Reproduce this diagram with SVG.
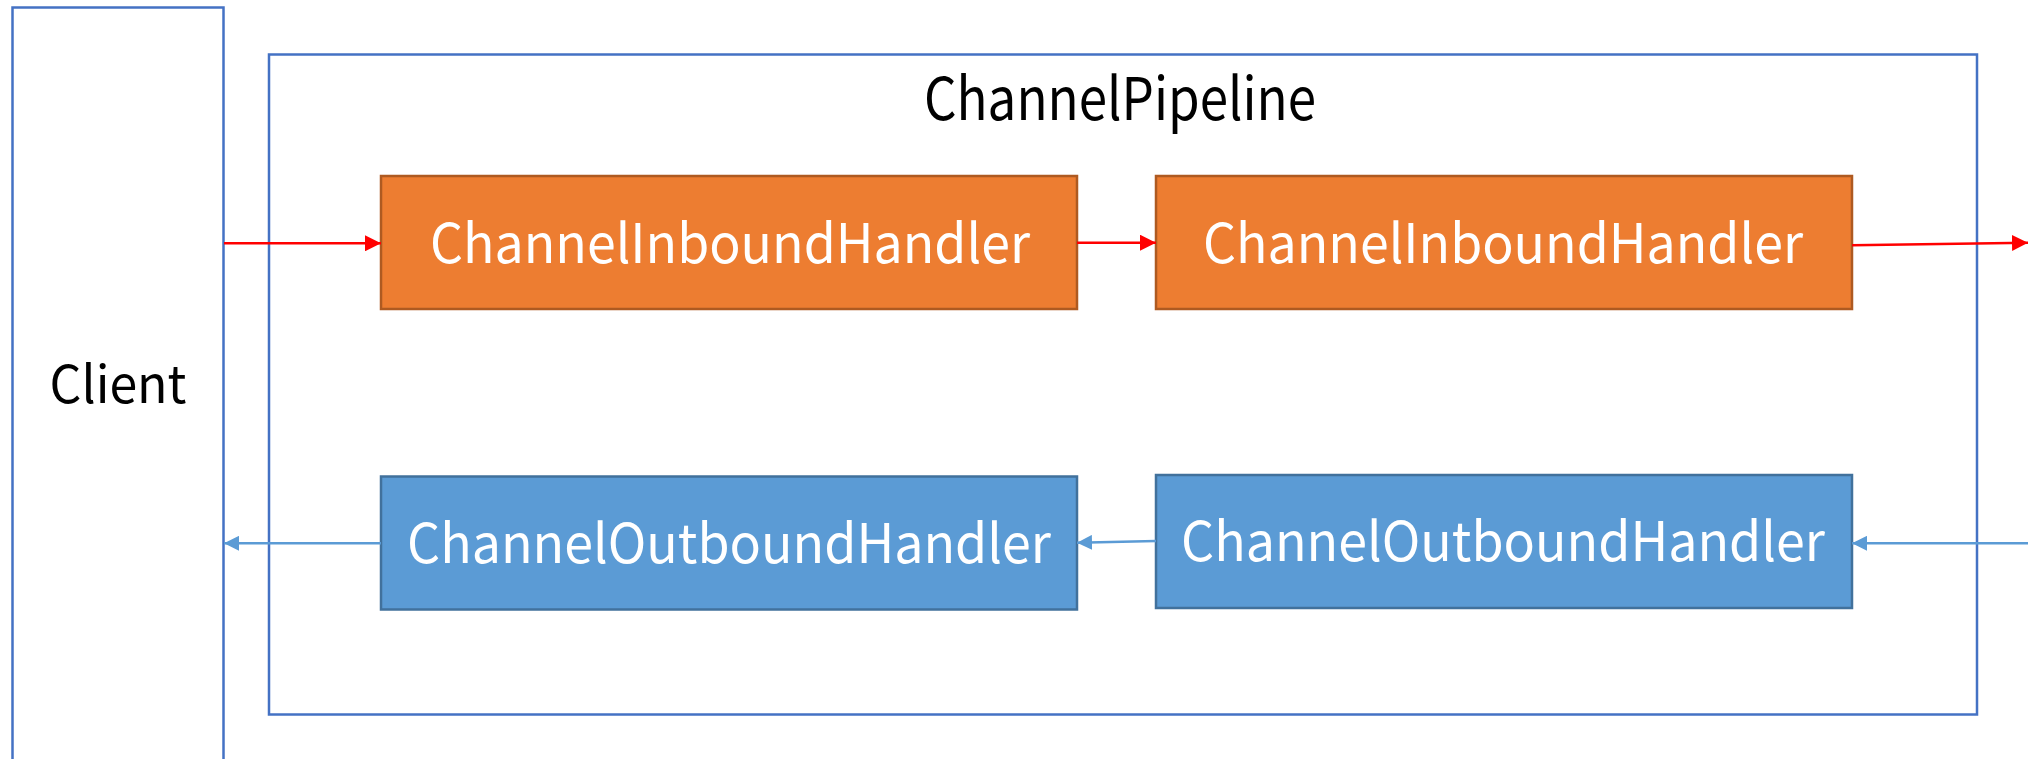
<svg xmlns="http://www.w3.org/2000/svg" width="2037" height="759" viewBox="0 0 2037 759">
  <style>
    .frame { fill: #FFFFFF; stroke: #4472C4; stroke-width: 2.5; }
    .inbound { fill: #ED7D31; stroke: #AE5A21; stroke-width: 2.5; }
    .outbound { fill: #5B9BD5; stroke: #41719C; stroke-width: 2.5; }
    .label { font-family: "Noto Sans CJK KR", "Noto Sans", sans-serif; text-anchor: middle; }
    .dark { fill: #000000; }
    .light { fill: #FFFFFF; }
    .in-flow { stroke: #FF0000; stroke-width: 2.5; fill: none; marker-end: url(#redHead); }
    .out-flow { stroke: #5B9BD5; stroke-width: 2.5; fill: none; marker-end: url(#blueHead); }
  </style>
  <defs>
    <marker id="redHead" markerUnits="userSpaceOnUse" viewBox="0 0 16 16" refX="16" refY="8" markerWidth="16" markerHeight="16" orient="auto">
      <path d="M0,0 L16,8 L0,16 Z" fill="#FF0000"/>
    </marker>
    <marker id="blueHead" markerUnits="userSpaceOnUse" viewBox="0 0 16 16" refX="16" refY="8" markerWidth="15" markerHeight="15" orient="auto">
      <path d="M0,0 L16,8 L0,16 Z" fill="#5B9BD5"/>
    </marker>
  </defs>

  <rect width="2037" height="759" fill="#FFFFFF"/>

  <!-- Client -->
  <g id="client">
    <rect class="frame" x="12.5" y="7.5" width="211" height="780"/>
    <text class="label dark" x="118" y="403" font-size="52" textLength="137" lengthAdjust="spacingAndGlyphs">Client</text>
  </g>

  <!-- ChannelPipeline container -->
  <g id="pipeline">
    <rect class="frame" x="269" y="54.5" width="1708" height="660"/>
    <text class="label dark" x="1120" y="120" font-size="59" textLength="392" lengthAdjust="spacingAndGlyphs">ChannelPipeline</text>
  </g>

  <!-- Inbound handlers -->
  <g id="inbound1">
    <rect class="inbound" x="381" y="176" width="696" height="133"/>
    <text class="label light" x="730" y="262.5" font-size="54" textLength="600" lengthAdjust="spacingAndGlyphs">ChannelInboundHandler</text>
  </g>
  <g id="inbound2">
    <rect class="inbound" x="1156" y="176" width="696" height="133"/>
    <text class="label light" x="1503" y="262.5" font-size="54" textLength="600" lengthAdjust="spacingAndGlyphs">ChannelInboundHandler</text>
  </g>

  <!-- Outbound handlers -->
  <g id="outbound1">
    <rect class="outbound" x="381" y="476.5" width="696" height="133"/>
    <text class="label light" x="729" y="562.5" font-size="54" textLength="644" lengthAdjust="spacingAndGlyphs">ChannelOutboundHandler</text>
  </g>
  <g id="outbound2">
    <rect class="outbound" x="1156" y="475" width="696" height="133"/>
    <text class="label light" x="1503" y="561" font-size="54" textLength="644" lengthAdjust="spacingAndGlyphs">ChannelOutboundHandler</text>
  </g>

  <!-- Connectors -->
  <g id="connectors">
    <path class="in-flow" d="M224,243.3 L381,243.3"/>
    <path class="in-flow" d="M1077,242.7 L1156,242.7"/>
    <path class="in-flow" d="M1852,245.3 L2028,242.7"/>
    <path class="out-flow" d="M2028,543.3 L1852,543.3"/>
    <path class="out-flow" d="M1156,541 L1077,542.7"/>
    <path class="out-flow" d="M381,543.3 L224,543.3"/>
  </g>
</svg>
